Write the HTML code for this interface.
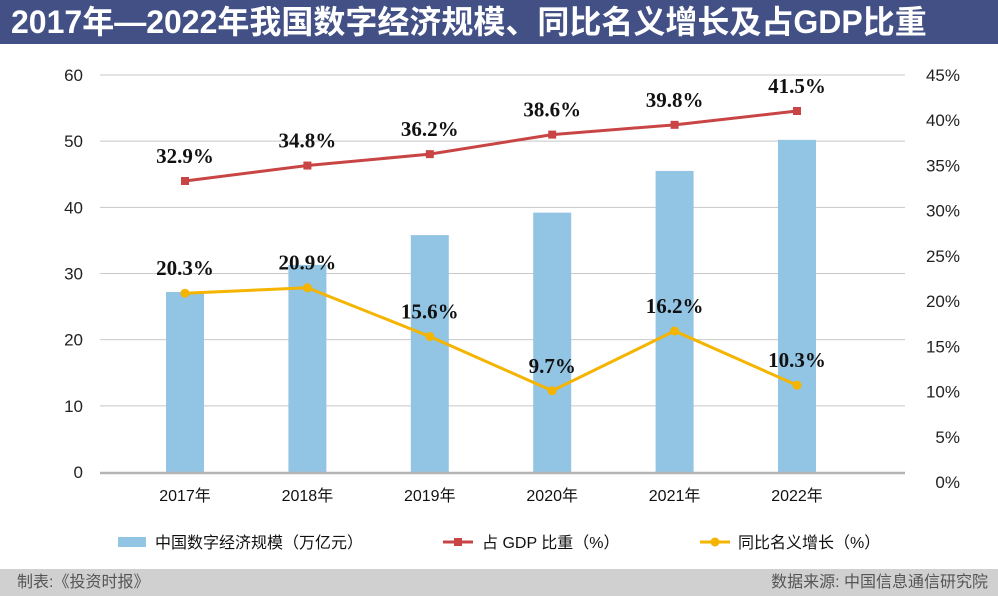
<!DOCTYPE html>
<html><head><meta charset="utf-8">
<style>
body{margin:0;width:998px;height:596px;overflow:hidden;background:#fff;font-family:"Liberation Sans","Noto Sans CJK SC",sans-serif;}
#title{position:absolute;left:0;top:0;width:998px;height:44px;background:#425085;color:#fff;font-weight:bold;font-size:32px;line-height:44px;padding-left:11px;box-sizing:border-box;letter-spacing:0px;white-space:nowrap;}
#footer{position:absolute;left:0;top:569px;width:998px;height:27px;background:#d0d0d0;color:#555;font-size:16px;line-height:27px;}
</style></head><body>
<div id="title">2017年—2022年我国数字经济规模、同比名义增长及占GDP比重</div>
<svg id="chart" width="998" height="596" style="position:absolute;left:0;top:0"></svg>
<div id="footer"><span style="position:absolute;left:17px">制表:《投资时报》</span><span style="position:absolute;right:10px">数据来源: 中国信息通信研究院</span></div>
<script>
const categories=["2017年","2018年","2019年","2020年","2021年","2022年"];
const scale=[27.2,31.3,35.8,39.2,45.5,50.2];
const gdpShare=[32.9,34.8,36.2,38.6,39.8,41.5];
const growth=[20.3,20.9,15.6,9.7,16.2,10.3];
const leftTicks=[0,10,20,30,40,50,60];
const rightTicks=[0,5,10,15,20,25,30,35,40,45];
const NS="http://www.w3.org/2000/svg";
const svg=document.getElementById('chart');
function mk(t,a,txt){const e=document.createElementNS(NS,t);for(const k in a)e.setAttribute(k,a[k]);if(txt!=null)e.textContent=txt;svg.appendChild(e);return e;}
const yL=v=>472-v*(397/60);
const yR=v=>482-v*(407/45);
const yG=v=>480-v*9.2;
const yS=v=>181-(v-32.9)*8.14;
const xC=i=>185+i*122.4;
leftTicks.forEach(v=>{
 if(v>0){const g=mk('line',{x1:100,x2:905,y1:yL(v),y2:yL(v),stroke:'#c8c8c8','stroke-width':1});
 
 }
 const t=mk('text',{x:83,y:yL(v)+6,'text-anchor':'end','font-size':17,fill:'#222'},String(v));
 
 
});
rightTicks.forEach(v=>{
 const t=mk('text',{x:960,y:yR(v)+6,'text-anchor':'end','font-size':17,fill:'#222'},v+'%');
 
 
});
scale.forEach((v,i)=>{
 const b=mk('rect',{x:xC(i)-19,y:yL(v),width:38,height:472-yL(v),fill:'#92c4e3'});
 
 
 const t=mk('text',{x:xC(i),y:501,'text-anchor':'middle','font-size':16,fill:'#111'},categories[i]);
 
 
});
const base=mk('line',{x1:100,x2:905,y1:473,y2:473,stroke:'#b5b5b5','stroke-width':2.5});


function series(vals,color,name,marker,yf){
 const p=mk('polyline',{points:vals.map((v,i)=>xC(i)+','+yf(v)).join(' '),fill:'none',stroke:color,'stroke-width':3});
 
 
 vals.forEach((v,i)=>{
  let m;
  if(marker==='sq')m=mk('rect',{x:xC(i)-4,y:yf(v)-4,width:8,height:8,fill:color});
  else m=mk('circle',{cx:xC(i),cy:yf(v),r:4.5,fill:color});
  
  
  const t=mk('text',{x:xC(i),y:yf(v)-18,'text-anchor':'middle','font-size':21,'font-weight':'bold','font-family':'"Liberation Serif",serif',fill:'#111'},v.toFixed(1)+'%');
  
  
 });
}
series(gdpShare,'#c94545','gdp-share','sq',yS);
series(growth,'#f4b400','growth','c',yG);
const l1=mk('rect',{x:118,y:537,width:28,height:10,fill:'#92c4e3'});


const lt1=mk('text',{x:155,y:548,'font-size':16,fill:'#111'},'中国数字经济规模（万亿元）');


const l2=mk('line',{x1:443,x2:473,y1:542,y2:542,stroke:'#c94545','stroke-width':3});


mk('rect',{x:454,y:538,width:8,height:8,fill:'#c94545'});
const lt2=mk('text',{x:482,y:548,'font-size':16,fill:'#111'},'占 GDP 比重（%）');


const l3=mk('line',{x1:700,x2:730,y1:542,y2:542,stroke:'#f4b400','stroke-width':3});


mk('circle',{cx:715,cy:542,r:4.5,fill:'#f4b400'});
const lt3=mk('text',{x:738,y:548,'font-size':16,fill:'#111'},'同比名义增长（%）');


</script>
</body></html>
